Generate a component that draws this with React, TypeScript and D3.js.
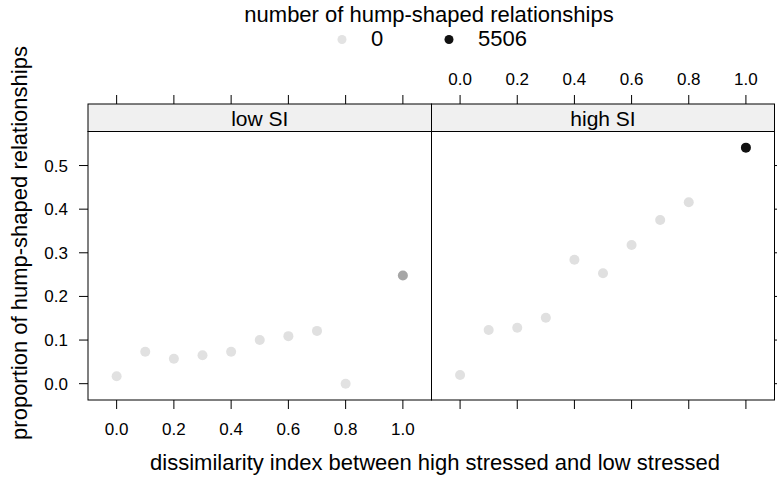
import React from 'react';
import * as d3 from 'd3';

// dissimilarity index values (x), shared by both panels
const lowX = [0.0, 0.1, 0.2, 0.3, 0.4, 0.5, 0.6, 0.7, 0.8, 1.0];
const lowY = [0.017, 0.073, 0.057, 0.065, 0.073, 0.1, 0.109, 0.121, 0.0, 0.248];
const lowCount = [40, 60, 50, 55, 60, 70, 75, 80, 30, 1600];

const highX = [0.0, 0.1, 0.2, 0.3, 0.4, 0.5, 0.6, 0.7, 0.8, 1.0];
const highY = [0.02, 0.123, 0.128, 0.151, 0.284, 0.253, 0.318, 0.375, 0.416, 0.541];
const highCount = [40, 60, 60, 70, 90, 80, 90, 100, 110, 5506];

const xTicks = [0.0, 0.2, 0.4, 0.6, 0.8, 1.0];
const yTicks = [0.0, 0.1, 0.2, 0.3, 0.4, 0.5];
const legendValues = [0, 5506];

const W = 777;
const H = 480;
const FONT = '"Liberation Sans", Arial, Helvetica, sans-serif';

const App: React.FC = () => {
  const top = 131.5;
  const bottom = 400;
  const stripTop = 104;
  const panels = [
    { name: 'low SI', x0: 88, x1: 431.5, xs: lowX, ys: lowY, cs: lowCount },
    { name: 'high SI', x0: 431.5, x1: 774.5, xs: highX, ys: highY, cs: highCount },
  ];

  const y = d3.scaleLinear().domain([-0.0374, 0.578]).range([bottom, top]);
  const color = d3.scaleLinear<string>().domain([0, 5506]).range(['#e3e3e3', '#111111']);
  const tk = 9;

  return (
    <svg width={W} height={H} style={{ position: 'absolute', left: 0, top: 0 }} fontFamily={FONT}>
      <rect width={W} height={H} fill="#fff" />
      {/* legend */}
      <text x={429} y={22} textAnchor="middle" fontSize={22} fill="#000">number of hump-shaped relationships</text>
      {legendValues.map((v, i) => (
        <g key={v} transform={`translate(${342 + i * 107},39.5)`}>
          <circle r={4.5} fill={color(v)} />
          <text x={29} y={6} fontSize={22} textAnchor="start" fill="#000">{v}</text>
        </g>
      ))}
      {panels.map((p, pi) => {
        const x = d3.scaleLinear().domain([-0.1, 1.1]).range([p.x0, p.x1]);
        return (
          <g key={p.name}>
            {/* strip */}
            <rect x={p.x0} y={stripTop} width={p.x1 - p.x0} height={top - stripTop} fill="#f0f0f0" stroke="#000" strokeWidth={1} />
            <text x={(p.x0 + p.x1) / 2} y={stripTop + 22} textAnchor="middle" fontSize={21} fill="#000">{p.name}</text>
            {/* points */}
            {p.xs.map((xv, i) => (
              <circle key={i} cx={x(xv)} cy={y(p.ys[i])} r={5} fill={color(p.cs[i])} />
            ))}
            {/* panel border */}
            <rect x={p.x0} y={top} width={p.x1 - p.x0} height={bottom - top} fill="none" stroke="#000" strokeWidth={1} />
            {/* x ticks top and bottom */}
            {xTicks.map(t => (
              <g key={t}>
                <line x1={x(t)} x2={x(t)} y1={stripTop} y2={stripTop - tk} stroke="#000" />
                <line x1={x(t)} x2={x(t)} y1={bottom} y2={bottom + tk} stroke="#000" />
                {pi === 0 ? (
                  <text x={x(t)} y={bottom + 35} textAnchor="middle" fontSize={17} fill="#000">{t.toFixed(1)}</text>
                ) : (
                  <text x={x(t)} y={stripTop - 19} textAnchor="middle" fontSize={17} fill="#000">{t.toFixed(1)}</text>
                )}
              </g>
            ))}
            {/* y ticks */}
            {yTicks.map(t => (
              pi === 0 ? (
                <g key={t}>
                  <line x1={p.x0} x2={p.x0 - tk} y1={y(t)} y2={y(t)} stroke="#000" />
                  <text x={p.x0 - 20} y={y(t) + 6} textAnchor="end" fontSize={17} fill="#000">{t.toFixed(1)}</text>
                </g>
              ) : (
                <line key={t} x1={p.x1} x2={p.x1 + tk} y1={y(t)} y2={y(t)} stroke="#000" />
              )
            ))}
          </g>
        );
      })}
      {/* axis titles */}
      <text x={435} y={470} textAnchor="middle" fontSize={22} fill="#000">dissimilarity index between high stressed and low stressed</text>
      <text transform="translate(27,243) rotate(-90)" textAnchor="middle" fontSize={22} fill="#000">proportion of hump-shaped relationships</text>
    </svg>
  );
};

export default App;
